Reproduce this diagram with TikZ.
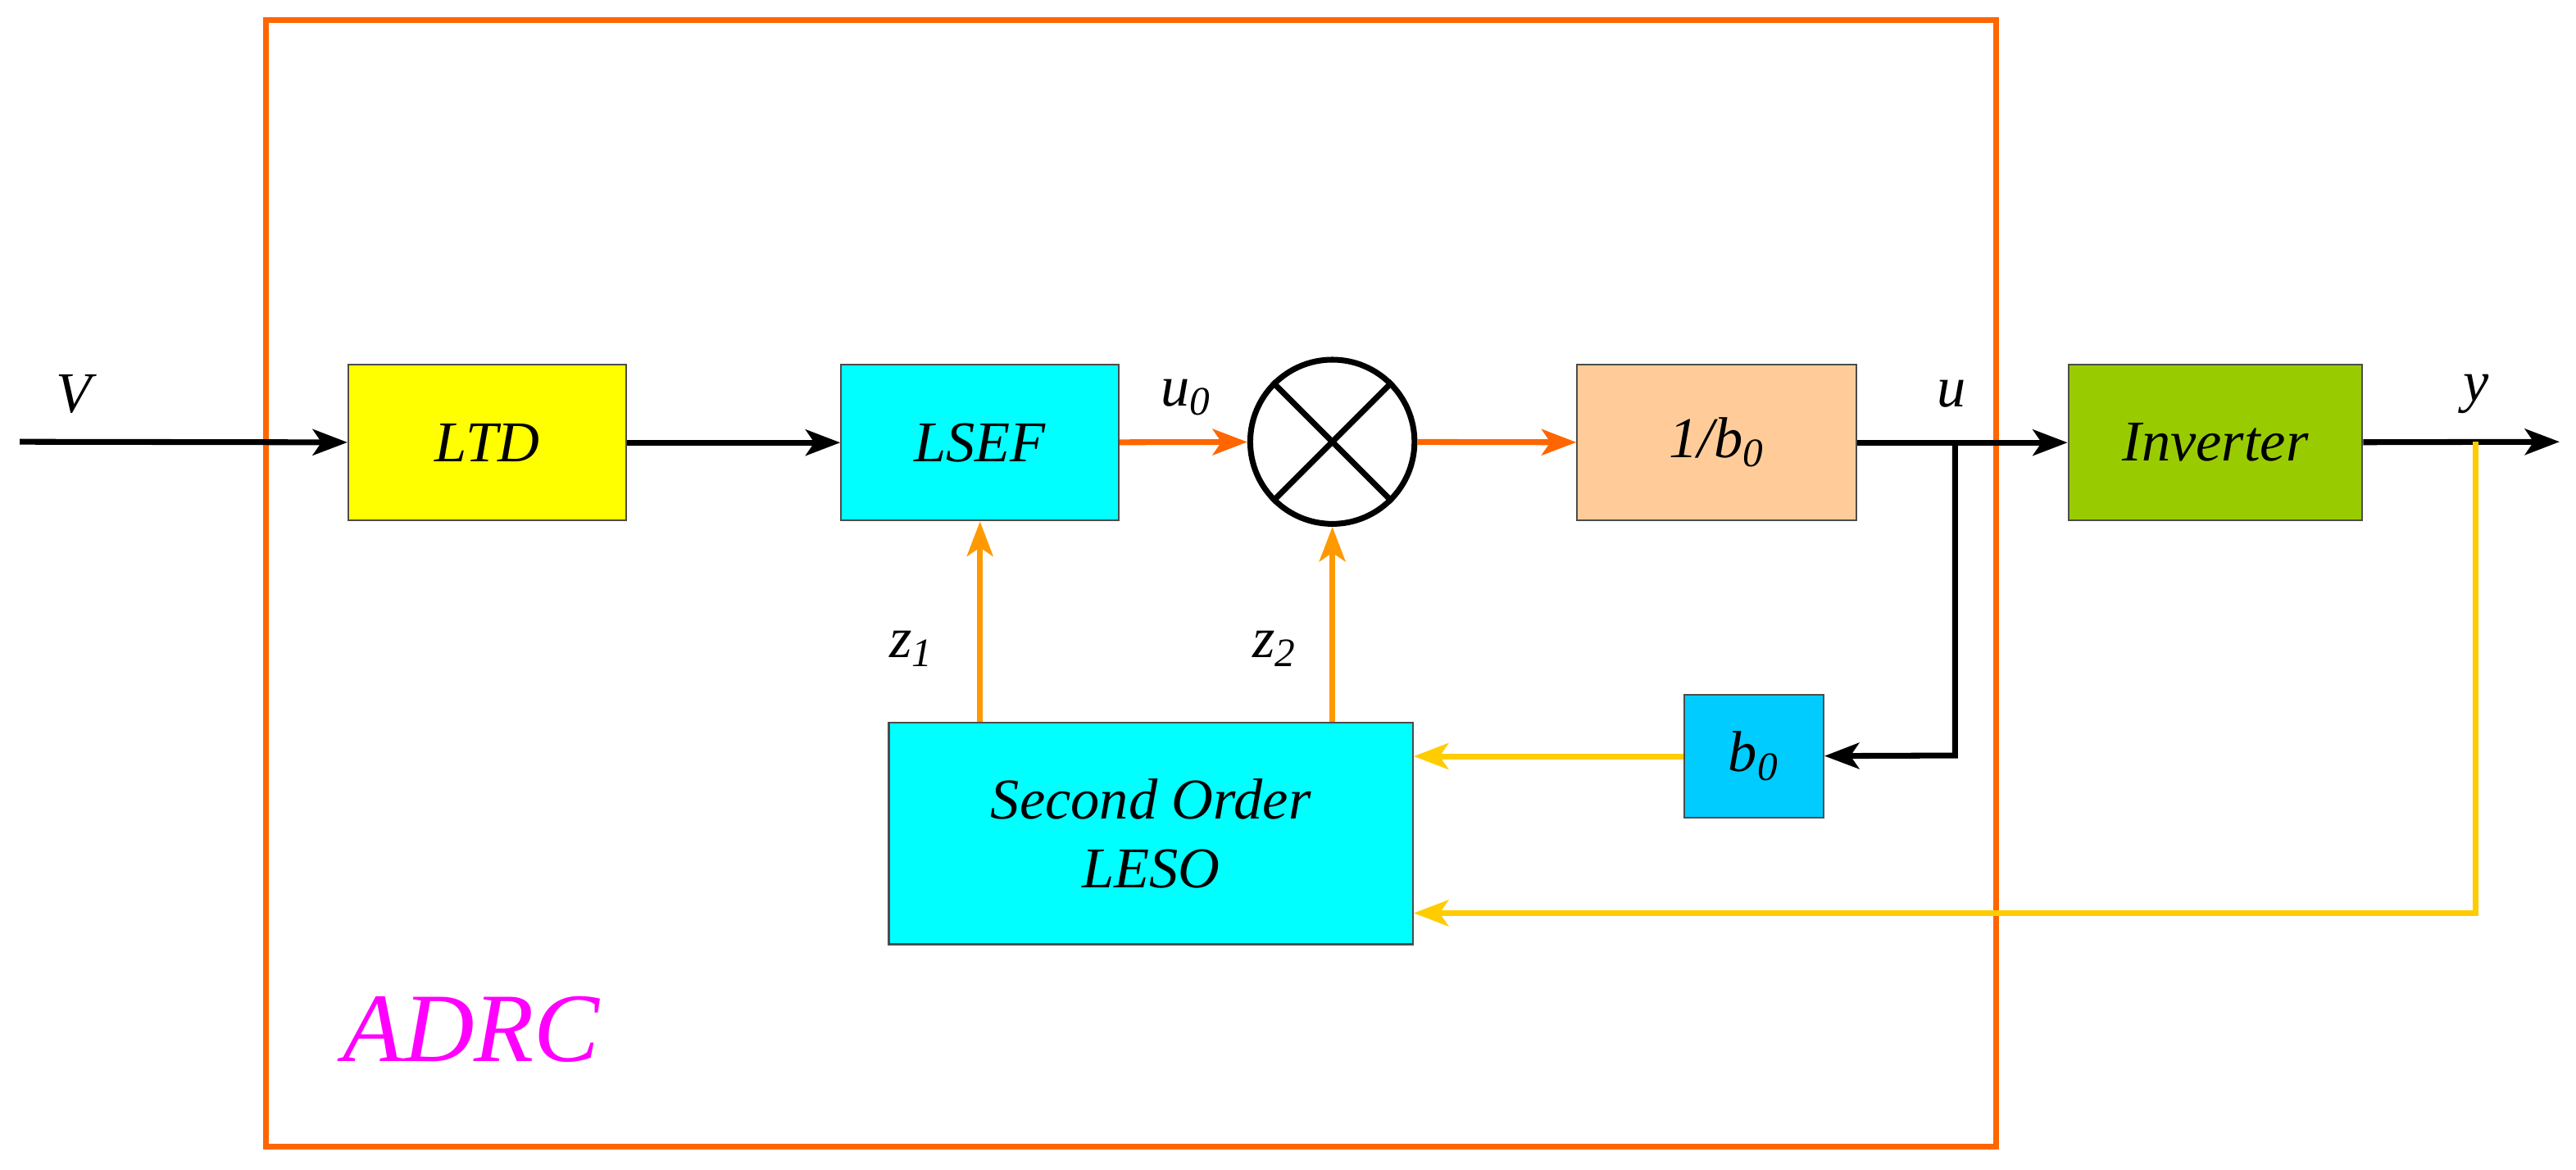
\documentclass[tikz,border=0pt]{standalone}
\usepackage{fontspec}
\setmainfont{Liberation Serif}
\usetikzlibrary{arrows.meta}
\definecolor{frameor}{HTML}{FF6600}
\definecolor{zor}{HTML}{FF9900}
\definecolor{fb}{HTML}{FFCC00}
\definecolor{peach}{HTML}{FFCC99}
\definecolor{grn}{HTML}{99CC00}
\definecolor{bz}{HTML}{00CCFF}
\definecolor{cyn}{HTML}{00FFFF}
\definecolor{ylw}{HTML}{FFFF00}
\definecolor{mag}{HTML}{FF00FF}
\begin{document}
\begin{tikzpicture}[x=0.02cm,y=-0.02cm,
  blk/.style={draw=black!70,line width=0.6pt,font=\fontsize{20}{24}\selectfont\itshape,inner sep=0pt,align=center},
  lab/.style={font=\fontsize{20}{24}\selectfont\itshape},
  ar/.style={line width=2pt,-{Stealth[length=12pt,width=9pt,inset=3pt]}}]
\useasboundingbox (0,0) rectangle (1568,712);
\draw[frameor,line width=2pt] (162,12) rectangle (1215,698);
\node[blk,fill=ylw,minimum width=3.38cm,minimum height=1.9cm] (ltd) at (296.5,269.5) {LTD};
\node[blk,fill=cyn,minimum width=3.38cm,minimum height=1.9cm] (lsef) at (596.5,269.5) {LSEF};
\node[draw,circle,line width=2pt,minimum size=2cm,inner sep=0pt] (sum) at (811,269) {};
\draw[line width=2pt] (sum.45)--(sum.225) (sum.135)--(sum.315);
\node[blk,fill=peach,minimum width=3.4cm,minimum height=1.9cm] (ib) at (1045,269.5) {1/\textit{b}\textsubscript{0}};
\node[blk,fill=grn,minimum width=3.58cm,minimum height=1.9cm] (inv) at (1348.5,269.5) {Inverter};
\node[blk,fill=bz,minimum width=1.7cm,minimum height=1.5cm] (b0) at (1067.5,460.5) {b\textsubscript{0}};
\node[blk,fill=cyn,minimum width=6.38cm,minimum height=2.7cm] (leso) at (700.5,507.5) {Second Order\\LESO};
\coordinate (vin) at (12,269);
\coordinate (yout) at (1558,269);
\coordinate (ub) at (1190,269);
\coordinate (ud) at (1190,460);
\coordinate (yb) at (1507,269);
\coordinate (yd) at (1507,556);
\draw[ar] (vin)--(ltd);
\draw[ar] (ltd)--(lsef);
\draw[ar,frameor] (lsef)--(sum);
\draw[ar,frameor] (sum)--(ib);
\draw[ar] (ib)--(inv);
\draw[ar] (inv)--(yout);
\draw[ar] (ub)--(ud)--(b0);
\draw[ar,fb] (b0.west)--(leso.east|-b0.west);
\draw[ar,fb] (yb)--(yd)--(leso.east|-yd);
\draw[ar,zor] (leso.north-|lsef)--(lsef.south);
\draw[ar,zor] (leso.north-|sum)--(sum.south);
\node[lab] (lv) at (45,240) {V};
\node[lab] (lu0) at (722,242) {u\textsubscript{0}};
\node[lab] (lu) at (1188,240) {u};
\node[lab] (ly) at (1507,240) {y};
\node[lab] (lz1) at (555,395) {z\textsubscript{1}};
\node[lab] (lz2) at (776,395) {z\textsubscript{2}};
\node[font=\fontsize{34}{40}\selectfont\itshape,text=mag] (adrc) at (287,627) {ADRC};
\end{tikzpicture}
\end{document}
